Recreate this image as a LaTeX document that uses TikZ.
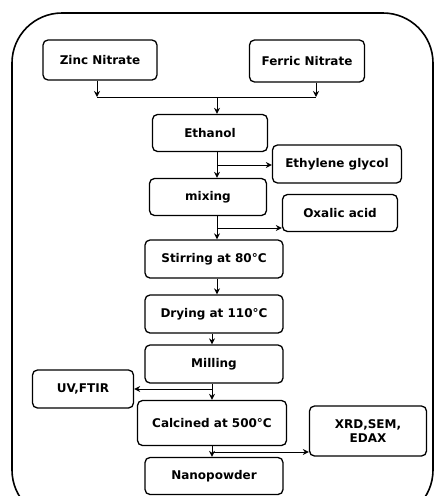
\documentclass[tikz,border=0pt]{standalone}
\usepackage{fontspec}
\setmainfont{DejaVu Sans}
\usetikzlibrary{arrows.meta}
\begin{document}
\begin{tikzpicture}[x=1pt,y=-1pt,
  box/.style={draw=black, line width=1.3pt, rounded corners=5pt, align=center,
    font=\fontsize{12}{14}\selectfont\bfseries, inner sep=0pt},
  arr/.style={-{Stealth[length=6pt,width=6pt,open]}, line width=1pt},
  ln/.style={line width=1pt}]
\useasboundingbox (0,0) rectangle (435,496);
\begin{scope}
\clip (0,0) rectangle (435,496);
\draw[line width=1.6pt, rounded corners=50pt] (12,13) rectangle (433,520);
\end{scope}
\node[box, minimum width=114pt, minimum height=40pt] (zinc) at (100,60) {Zinc Nitrate};
\node[box, minimum width=115pt, minimum height=42pt] (ferric) at (307,61) {Ferric Nitrate};
\node[box, minimum width=115pt, minimum height=37pt] (ethanol) at (210,133) {Ethanol};
\node[box, minimum width=129pt, minimum height=38pt] (eg) at (337,164) {Ethylene glycol};
\node[box, minimum width=117pt, minimum height=37pt] (mixing) at (208,197) {mixing};
\node[box, minimum width=115pt, minimum height=37pt] (oxalic) at (340,213) {Oxalic acid};
\node[box, minimum width=138pt, minimum height=38pt] (stir) at (214,259) {Stirring at 80°C};
\node[box, minimum width=138pt, minimum height=38pt] (dry) at (214,314) {Drying at 110°C};
\node[box, minimum width=138pt, minimum height=38pt] (mill) at (214,364) {Milling};
\node[box, minimum width=101pt, minimum height=38pt] (uv) at (83,389) {UV,FTIR};
\node[box, minimum width=149pt, minimum height=45pt] (calc) at (212,423) {Calcined at 500°C};
\node[box, minimum width=117pt, minimum height=50pt] (xrd) at (368,431) {XRD,SEM,\\EDAX};
\node[box, minimum width=138pt, minimum height=37pt] (nano) at (214,476) {Nanopowder};
% junction
\coordinate (j1) at (97,97);
\coordinate (j2) at (316,97);
\coordinate (jm) at (217,97);
\draw[arr] (zinc.south -| j1) -- (j1);
\draw[arr] (ferric.south -| j2) -- (j2);
\draw[ln] (j1) -- (j2);
\draw[arr] (jm) -- (ethanol.north -| jm);
% ethanol -> mixing, branch to ethylene glycol
\coordinate (c1) at (217,0);
\coordinate (b1) at (217,165);
\draw[arr] (ethanol.south -| c1) -- (mixing.north -| c1);
\draw[arr] (b1) -- (b1 -| eg.west);
% mixing -> stirring, branch to oxalic
\coordinate (b2) at (217,228);
\draw[arr] (mixing.south -| c1) -- (stir.north -| c1);
\draw[arr] (b2) -- (b2 -| oxalic.west);
% stirring -> drying
\draw[arr] (stir.south -| c1) -- (dry.north -| c1);
% drying -> milling
\coordinate (c2) at (212,0);
\draw[arr] (dry.south -| c2) -- (mill.north -| c2);
% milling -> calcined, branch to UV
\coordinate (b3) at (212,389);
\draw[arr] (mill.south -| c2) -- (calc.north -| c2);
\draw[arr] (b3) -- (b3 -| uv.east);
% calcined -> nanopowder, branch to XRD
\coordinate (b4) at (212,452);
\draw[arr] (calc.south -| c2) -- (nano.north -| c2);
\draw[arr] (b4) -- (b4 -| xrd.west);
\end{tikzpicture}
\end{document}
